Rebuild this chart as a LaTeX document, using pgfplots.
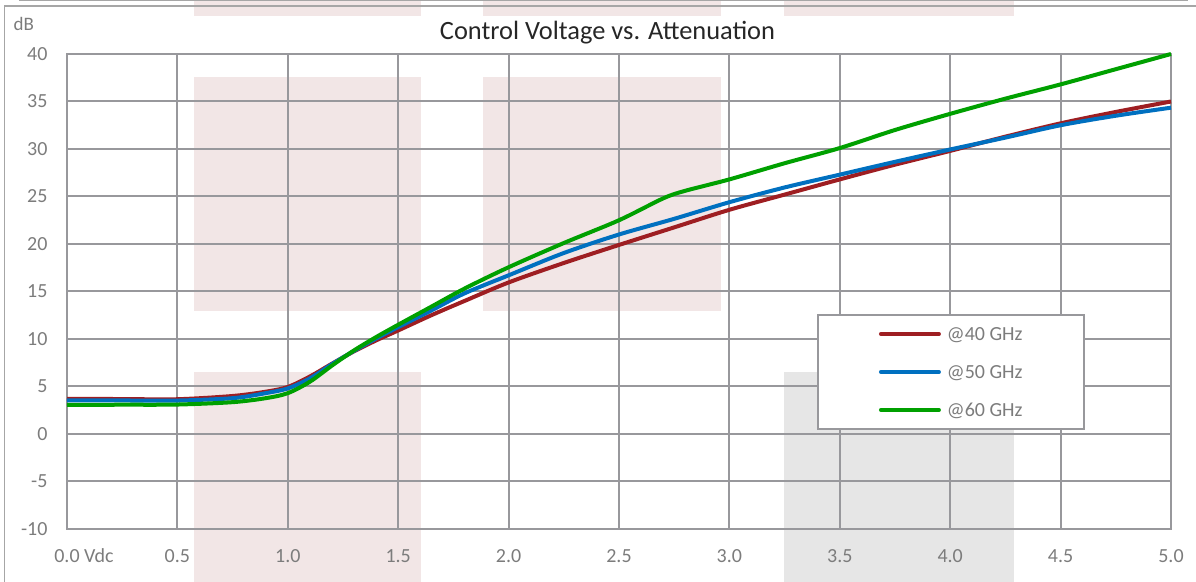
\documentclass[border=0pt]{standalone}
\usepackage{pgfplots}
\pgfplotsset{compat=1.18}
\usepackage{fontspec}
\setmainfont{Carlito}
\definecolor{gridgray}{RGB}{152,152,156}
\definecolor{tickgray}{RGB}{124,124,124}
\definecolor{titlegray}{RGB}{38,38,38}
\definecolor{framegray}{RGB}{166,166,166}
\definecolor{pinkbg}{RGB}{242,230,230}
\definecolor{greybg}{RGB}{230,230,230}
\definecolor{c40}{RGB}{158,30,34}
\definecolor{c50}{RGB}{0,112,192}
\definecolor{c60}{RGB}{0,160,0}

\pgfplotstableread{
x y
0    3.70
0.25 3.68
0.5  3.66
0.75 4.00
0.9  4.45
1.0  4.95
1.1  6.05
1.2  7.40
1.3  8.70
1.4  9.85
1.5  10.90
1.65 12.50
1.8  14.00
2.0  15.95
2.25 18.00
2.5  19.90
2.75 21.75
3.0  23.60
3.25 25.20
3.5  26.80
3.75 28.35
4.0  29.80
4.25 31.30
4.5  32.70
4.75 33.90
5.0  35.00
}\dataforty

\pgfplotstableread{
x y
0    3.55
0.25 3.53
0.5  3.52
0.75 3.77
0.9  4.30
1.0  4.80
1.1  5.85
1.2  7.35
1.3  8.75
1.4  10.05
1.5  11.25
1.65 13.00
1.8  14.80
2.0  16.70
2.25 19.05
2.5  21.00
2.75 22.65
3.0  24.40
3.25 25.95
3.5  27.30
3.75 28.65
4.0  29.95
4.25 31.20
4.5  32.50
4.75 33.50
5.0  34.35
}\datafifty

\pgfplotstableread{
x y
0    3.07
0.25 3.08
0.5  3.10
0.75 3.35
0.9  3.77
1.0  4.30
1.1  5.50
1.2  7.20
1.3  8.80
1.4  10.20
1.5  11.50
1.65 13.40
1.8  15.30
2.0  17.55
2.25 20.10
2.5  22.50
2.7  24.80
2.8  25.60
3.0  26.80
3.25 28.50
3.5  30.10
3.75 32.00
4.0  33.70
4.25 35.30
4.5  36.80
4.75 38.40
5.0  40.00
}\datasixty

\begin{document}
\begin{tikzpicture}
% background overlay rectangles (decoration)
\fill[pinkbg] (63.5pt,256.65pt) rectangle (176.75pt,264.5pt);
\fill[pinkbg] (207.85pt,256.65pt) rectangle (327pt,264.5pt);
\fill[pinkbg] (358.25pt,256.65pt) rectangle (473.5pt,264.5pt);
\fill[pinkbg] (63.5pt,109.15pt) rectangle (176.75pt,225.85pt);
\fill[pinkbg] (207.85pt,109.15pt) rectangle (327pt,225.85pt);
\fill[pinkbg] (63.5pt,-26.5pt) rectangle (176.75pt,78.5pt);
\fill[greybg] (358.25pt,-26.5pt) rectangle (473.5pt,78.5pt);
% outer chart frame
\draw[framegray, line width=0.9pt] (-31.25pt,-26.5pt) -- (-31.25pt,261.5pt) -- (564.5pt,261.5pt);
\draw[framegray, line width=0.9pt] (-24pt,264.2pt) -- (560.5pt,264.2pt);

\begin{axis}[
  at={(0pt,0pt)}, anchor=south west,
  scale only axis, width=552pt, height=237.5pt,
  xmin=0, xmax=5, ymin=-10, ymax=40,
  clip=false,
  xtick={0,0.5,1,1.5,2,2.5,3,3.5,4,4.5,5},
  xticklabels={0.0\rlap{ Vdc},0.5,1.0,1.5,2.0,2.5,3.0,3.5,4.0,4.5,5.0},
  ytick={-10,-5,0,5,10,15,20,25,30,35,40},
  yticklabels={-10,-5,0,5,10,15,20,25,30,35,40},
  grid=major,
  major grid style={draw=gridgray, line width=1pt},
  axis line style={draw=gridgray, line width=1pt},
  major tick length=0pt,
  tick style={draw=none},
  tick label style={font=\fontsize{10}{12}\selectfont, text=tickgray},
  yticklabel style={anchor=east, inner sep=0pt, xshift=-9.6pt},
  xticklabel style={anchor=base, inner sep=0pt, yshift=-16.9pt},
  legend style={
    at={(0.6793,0.4526)}, anchor=north west,
    draw=gridgray, line width=1pt, fill=white,
    inner xsep=30.5pt, inner ysep=6.25pt,
    row sep=12.5pt, column sep=3pt,
    font=\fontsize{10}{12}\selectfont, text=tickgray,
    nodes={inner xsep=0pt, inner ysep=0pt, text height=6.5pt, text depth=0pt},
  },
  legend cell align=left,
  legend image code/.code={\draw[#1, line cap=round] (0pt,0pt) -- (29pt,0pt);},
]
\addplot[c40, line width=2pt, smooth, tension=0.5] table[x=x,y=y] {\dataforty};
\addlegendentry{@40 GHz}
\addplot[c50, line width=2pt, smooth, tension=0.5] table[x=x,y=y] {\datafifty};
\addlegendentry{@50 GHz}
\addplot[c60, line width=2pt, smooth, tension=0.5] table[x=x,y=y] {\datasixty};
\addlegendentry{@60 GHz}
\end{axis}

\node[anchor=base, inner sep=0pt, font=\fontsize{13.2}{15}\selectfont, text=titlegray] at (270.25pt,244.85pt) {Control Voltage vs. Attenuation};
\node[anchor=base west, inner sep=0pt, font=\fontsize{9.5}{11}\selectfont, text=tickgray] at (-26.85pt,249pt) {dB};

\pgfresetboundingbox
\path[use as bounding box] (-33.5pt,-26.5pt) rectangle (564.5pt,264.5pt);
\end{tikzpicture}
\end{document}
